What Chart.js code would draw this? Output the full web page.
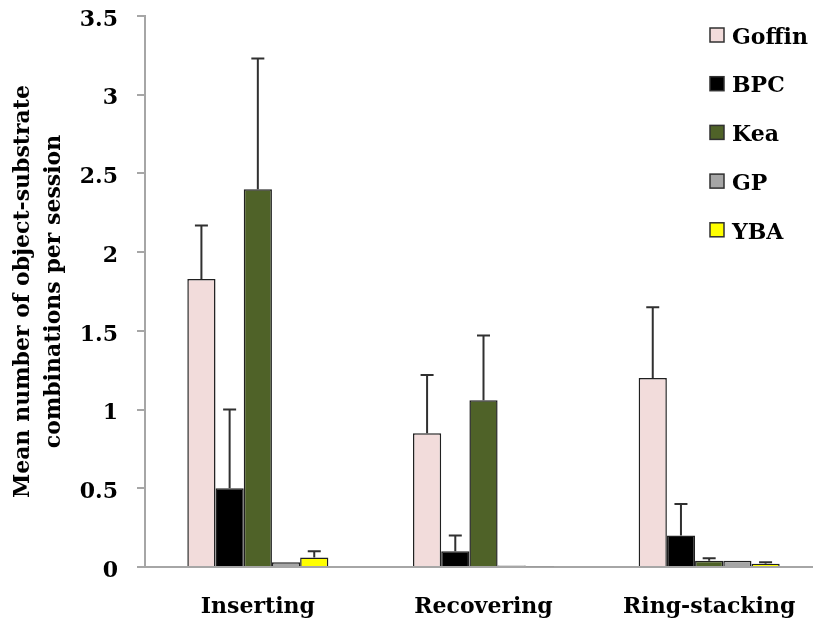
<!DOCTYPE html>
<html>
<head>
<meta charset="utf-8">
<script src="https://cdn.jsdelivr.net/npm/chart.js@4.4.1/dist/chart.umd.min.js"></script>
<style>
  html, body { margin: 0; padding: 0; background: #ffffff; overflow: hidden; }
  #wrap { width: 830px; height: 622px; }
</style>
</head>
<body>
<div id="wrap"><canvas id="c" width="830" height="622"></canvas></div>
<script>
// ---- data ----
const categories = ['Inserting', 'Recovering', 'Ring-stacking'];
const seriesNames = ['Goffin', 'BPC', 'Kea', 'GP', 'YBA'];
const goffin = [1.83, 0.85, 1.20];
const bpc    = [0.50, 0.10, 0.20];
const kea    = [2.40, 1.06, 0.04];
const gp     = [0.03, 0.01, 0.04];
const yba    = [0.06, 0.005, 0.02];
// upper error (amount above mean)
const goffinErr = [0.34, 0.37, 0.45];
const bpcErr    = [0.50, 0.10, 0.20];
const keaErr    = [0.83, 0.41, 0.015];
const gpErr     = [0, 0, 0];
const ybaErr    = [0.04, 0, 0.01];
const yTicks = [0, 0.5, 1, 1.5, 2, 2.5, 3, 3.5];
const yTitle = ['Mean number of object-substrate', 'combinations per session'];

const seriesValues = [goffin, bpc, kea, gp, yba];
const seriesErrors = [goffinErr, bpcErr, keaErr, gpErr, ybaErr];
const colors = ['#f2dcdb', '#000000', '#4f6228', '#a6a6a6', '#ffff00'];

const FONT = 'DejaVu Serif';

const errorBars = {
  id: 'errorBars',
  afterDatasetsDraw(chart) {
    const ctx = chart.ctx;
    const ys = chart.scales.y;
    ctx.save();
    ctx.strokeStyle = '#303030';
    ctx.lineWidth = 2;
    chart.data.datasets.forEach((ds, d) => {
      const meta = chart.getDatasetMeta(d);
      meta.data.forEach((bar, i) => {
        const e = seriesErrors[d][i];
        if (!e) return;
        const top = ys.getPixelForValue(ds.data[i] + e);
        ctx.beginPath();
        ctx.moveTo(bar.x, bar.y);
        ctx.lineTo(bar.x, top);
        ctx.moveTo(bar.x - 6.5, top);
        ctx.lineTo(bar.x + 6.5, top);
        ctx.stroke();
      });
    });
    ctx.restore();
  }
};

const customLegend = {
  id: 'customLegend',
  afterDraw(chart) {
    const ctx = chart.ctx;
    ctx.save();
    ctx.font = 'bold 22px "' + FONT + '"';
    ctx.textBaseline = 'middle';
    ctx.textAlign = 'left';
    chart.data.datasets.forEach((ds, d) => {
      const cy = 35 + d * 48.7;
      ctx.fillStyle = ds.backgroundColor;
      ctx.fillRect(710, cy - 7, 14, 14);
      ctx.strokeStyle = '#303030';
      ctx.lineWidth = 1.5;
      ctx.strokeRect(710, cy - 7, 14, 14);
      ctx.fillStyle = '#000000';
      ctx.fillText(ds.label, 732, cy + 3);
    });
    ctx.restore();
  }
};

new Chart(document.getElementById('c'), {
  type: 'bar',
  data: {
    labels: categories,
    datasets: seriesNames.map((n, k) => ({
      label: n,
      data: seriesValues[k],
      backgroundColor: colors[k],
      borderColor: '#202020',
      borderWidth: 1.5,
      categoryPercentage: 0.625,
      barPercentage: 1.0
    }))
  },
  options: {
    responsive: false,
    animation: false,
    layout: { padding: { left: 0, right: 8, top: 16, bottom: 0 } },
    plugins: { legend: { display: false }, tooltip: { enabled: false } },
    scales: {
      x: {
        afterFit(s) { s.height = 55; s.paddingLeft = 0; s.paddingRight = 0; },
        grid: { display: false },
        border: { display: true, color: '#a6a6a6', width: 2 },
        ticks: { color: '#000', padding: 19, font: { family: FONT, size: 22, weight: 'bold' } }
      },
      y: {
        min: 0, max: 3.5,
        afterFit(s) { s.width = 145; s.paddingTop = 0; s.paddingBottom = 0; },
        afterBuildTicks(s) { s.ticks = yTicks.map(v => ({ value: v })); },
        grid: { drawOnChartArea: false, drawTicks: true, tickLength: 8, color: '#a6a6a6', lineWidth: 2 },
        border: { display: true, color: '#a6a6a6', width: 2 },
        ticks: { color: '#000', padding: 19, labelOffset: 4, font: { family: FONT, size: 22, weight: 'bold' },
                 callback: (v) => String(v) },
        title: { display: true, text: yTitle, color: '#000', padding: { top: 8, bottom: 0 },
                 font: { family: FONT, size: 22, weight: 'bold', lineHeight: 1.4 } }
      }
    }
  },
  plugins: [errorBars, customLegend]
});
</script>
</body>
</html>
